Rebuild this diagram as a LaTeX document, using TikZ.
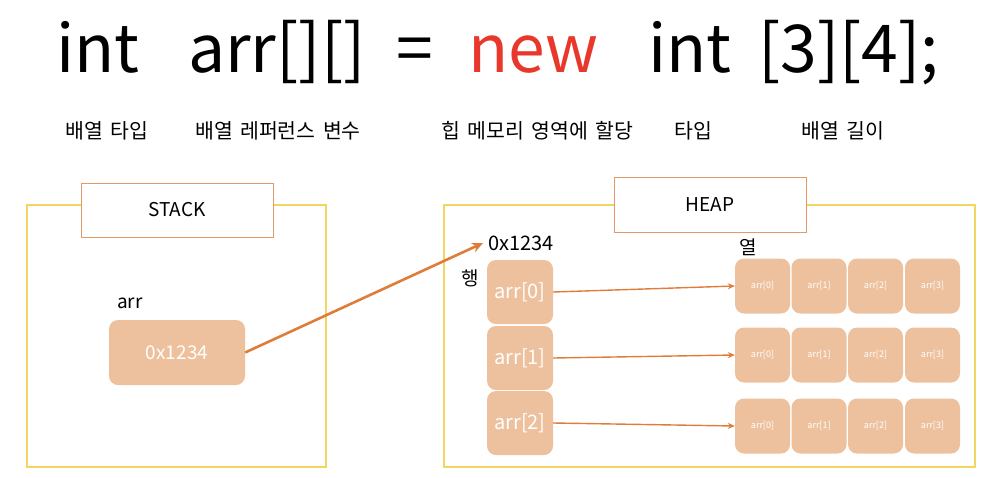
\documentclass[tikz,border=0pt]{standalone}
\usepackage{fontspec}
\setmainfont{Noto Sans CJK KR}
\newfontfamily\korwide[WordSpace=1.6]{Noto Sans CJK KR}
\usetikzlibrary{arrows.meta}
\definecolor{gold}{HTML}{F2D660}
\definecolor{boxline}{HTML}{E39A66}
\definecolor{peach}{HTML}{EDC19E}
\definecolor{arrowc}{HTML}{E07C3A}
\definecolor{newred}{HTML}{E8382B}
\tikzset{
  txt/.style={inner sep=0pt, anchor=base west},
  title/.style={txt, font=\fontsize{66}{70}\selectfont},
  lbl/.style={txt, font=\fontsize{18}{20}\selectfont},
  kor/.style={txt, font=\korwide\fontsize{20.5}{22}\selectfont},
  region/.style={draw=gold, line width=1.3pt},
  tagbox/.style={draw=boxline, fill=white, line width=1pt},
  cellbig/.style={fill=peach, rounded corners=9pt, text=white},
  cellsmall/.style={fill=peach, rounded corners=9pt, text=white, font=\fontsize{9}{10}\selectfont},
  link/.style={draw=arrowc, line width=1.4pt, -{Stealth[length=7pt,width=6pt]}},
  biglink/.style={draw=arrowc, line width=2.6pt, -{Stealth[length=11pt,width=10pt]}}
}
\begin{document}
\begin{tikzpicture}[x=1pt,y=-1pt]
\useasboundingbox (0,0) rectangle (985,477);
% title
\node[title] (t1) at (56,72) {int};
\node[title] (t2) at (188,72) {arr[][]};
\node[title] (t3) at (396,72) {=};
\node[title, text=newred] (t4) at (468,72) {new};
\node[title] (t5) at (648,72) {int};
\node[title] (t6) at (758,72) {[3][4];};
% labels
\node[kor] (l1) at (65,138) {배열 타입};
\node[kor] (l2) at (195,138) {배열 레퍼런스 변수};
\node[kor] (l3) at (441,138) {힙 메모리 영역에 할당};
\node[kor] (l4) at (674,138) {타입};
\node[kor] (l5) at (801,138) {배열 길이};
% stack
\draw[region] (27,205) rectangle (326,467);
\node[tagbox, minimum width=192pt, minimum height=54pt, font=\fontsize{19}{21}\selectfont] (stack) at (177,210) {STACK};
\node[lbl, font=\fontsize{19}{21}\selectfont] (arrlbl) at (117,308) {arr};
\node[cellbig, minimum width=136pt, minimum height=65pt, font=\fontsize{19}{21}\selectfont] (ref) at (177,352.5) {0x1234};
% heap
\draw[region] (444,205) rectangle (975,467);
\node[tagbox, minimum width=192pt, minimum height=55pt, font=\fontsize{19}{21}\selectfont] (heap) at (710,204.5) {HEAP};
\node[lbl, font=\fontsize{20}{22}\selectfont] (addr) at (488,250) {0x1234};
\node[lbl, font=\fontsize{19}{21}\selectfont] (row) at (461,285) {행};
\node[lbl, font=\fontsize{19}{21}\selectfont] (col) at (739,254) {열};
\foreach \i/\y in {0/292,1/358,2/423}{
  \node[cellbig, minimum width=66pt, minimum height=64pt, font=\fontsize{20}{22}\selectfont] (r\i) at (520,\y) {arr[\i]};
}
\foreach \r/\y in {0/286,1/355,2/426}{
  \foreach \c/\x in {0/762.5,1/819,2/875.5,3/932.5}{
    \node[cellsmall, minimum width=55pt, minimum height=55pt] (c\r\c) at (\x,\y) {arr[\c]};
  }
}
\coordinate (addrpt) at (483,243);
\draw[biglink] (ref.east) -- (addrpt);
\draw[link] (r0.east) -- (c00.west);
\draw[link] (r1.east) -- (c10.west);
\draw[link] (r2.east) -- (c20.west);
\end{tikzpicture}
\end{document}
